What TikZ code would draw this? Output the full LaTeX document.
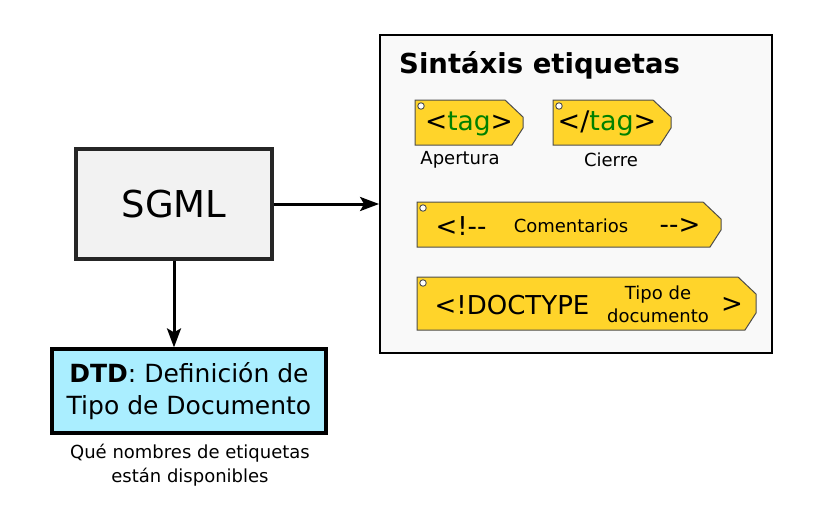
\documentclass[tikz,border=0pt]{standalone}
\usepackage{fontspec}
\setmainfont{DejaVu Sans}
\usetikzlibrary{arrows.meta}
\definecolor{tagyellow}{HTML}{FFD42A}
\definecolor{tagedge}{HTML}{4D4D4D}
\definecolor{dtdcyan}{HTML}{AAEEFF}
\definecolor{sgmlfill}{HTML}{F2F2F2}
\definecolor{panelfill}{HTML}{F9F9F9}
\definecolor{taggreen}{HTML}{008000}
\newcommand{\fs}[2]{\fontsize{#1}{#2}\selectfont}
\newcommand{\mytagpath}[4]{%
  \draw[tagbody] (#1,#2) -- (#3-18,#2) -- (#3,#2+17) -- (#3,#4-17) -- (#3-11,#4) -- (#1,#4) -- cycle;}
\tikzset{
  tagbody/.style={fill=tagyellow, draw=tagedge, line width=1pt},
  taghole/.style={circle, fill=white, draw=tagedge, line width=0.9pt, minimum size=6.5pt, inner sep=0pt},
  txt/.style={inner sep=0pt, text=black},
  arr/.style={-{Stealth[length=19pt,width=14pt,inset=4pt]}, line width=3pt},
}
\begin{document}
\begin{tikzpicture}[x=1pt,y=-1pt]
\useasboundingbox (0,0) rectangle (816,511);

% SGML
\node[draw=black!85, line width=3.2pt, fill=sgmlfill, minimum width=196pt, minimum height=110pt, inner sep=0pt, font=\fs{37}{44}] (sgml) at (174,204) {SGML};

% Panel
\node[draw=black, line width=1.8pt, fill=panelfill, minimum width=392pt, minimum height=318pt, inner sep=0pt] (panel) at (576,194) {};
\node[txt, anchor=west, font=\fs{27.5}{33}\bfseries] (title) at (399,65) {Sintáxis etiquetas};

% DTD
\node[draw=black, line width=3.2pt, fill=dtdcyan, minimum width=274pt, minimum height=84pt, inner sep=0pt, align=center, font=\fs{25}{32}] (dtd) at (189,391) {\textbf{DTD}: Definición de\\Tipo de Documento};
\node[txt, align=center, font=\fs{18}{24}] (dtdcap) at (190,465) {Qué nombres de etiquetas\\están disponibles};

% arrows
\draw[arr] (sgml.east) -- (panel.west |- sgml.east);
\draw[arr] (sgml.south) -- (sgml.south |- dtd.north);

% Tag 1
\mytagpath{415}{100}{523}{145}
\node[taghole] (h1) at (421,106) {};
\node[txt, font=\fs{26.5}{30}] (t1) at (469,124) {<\textcolor{taggreen}{tag}>};
\node[txt, font=\fs{18}{22}] (l1) at (460,160) {Apertura};

% Tag 2
\mytagpath{553}{100}{671}{145}
\node[taghole] (h2) at (559,106) {};
\node[txt, font=\fs{27}{30}] (t2) at (607,123) {</\textcolor{taggreen}{tag}>};
\node[txt, font=\fs{18}{22}] (l2) at (611,160) {Cierre};

% Tag 3
\mytagpath{417}{202}{721}{247}
\node[taghole] (h3) at (423,208) {};
\node[txt, font=\fs{26}{30}] (t3a) at (461,226) {<!-{}-};
\node[txt, font=\fs{18}{22}] (t3b) at (571,226) {Comentarios};
\node[txt, font=\fs{26}{30}] (t3c) at (680,226) {-{}->};

% Tag 4
\mytagpath{417}{277}{756}{330}
\node[taghole] (h4) at (423,283) {};
\node[txt, font=\fs{26}{30}] (t4a) at (512,305) {<!DOCTYPE};
\node[txt, align=center, font=\fs{18}{23}] (t4b) at (658,304) {Tipo de\\documento};
\node[txt, font=\fs{26}{30}] (t4c) at (732,305) {>};
\end{tikzpicture}
\end{document}
